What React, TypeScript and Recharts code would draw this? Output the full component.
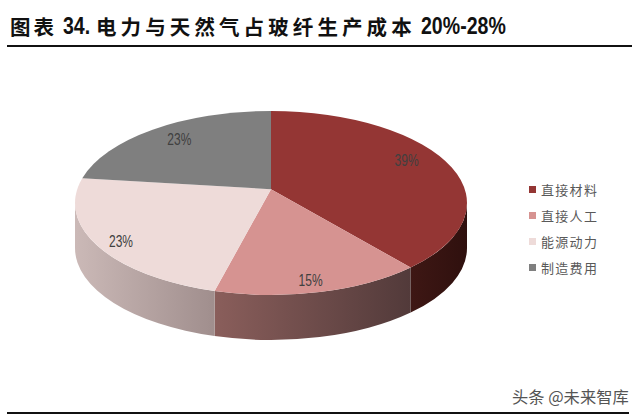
import React from 'react';
import { PieChart, Pie, Legend } from 'recharts';

const categories = ['直接材料', '直接人工', '能源动力', '制造费用'];
const shares = [39, 15, 23, 23];
const topColors = ['#943634', '#d69391', '#eedbd9', '#7f7f7f'];
const wallLeft = ['#3e1714', '#8a5e5b', '#cbb9b7', '#7f7f7f'];
const wallRight = ['#2f100e', '#523a3a', '#a08e8d', '#7f7f7f'];

// label nudges from the default spot, px
const labelNudge = [[2, -6], [-3, 3], [4, 4], [-3, -3]];
const labelFraction = [0.77, 0.86, 0.88, 0.77];

const tableData = categories.map((name, i) => ({ name, value: shares[i], fill: topColors[i] }));

const SQUASH = 92 / 196; // ellipse height / width
const HUB = -0.15; // perspective shift of the centre
const DEPTH = 45;

// true pie angle -> position on the tilted disc
const project = (deg: number) => {
  const a = (deg * Math.PI) / 180;
  const u = Math.cos(a);
  const v = -Math.sin(a);
  const d = 1 + HUB * v;
  return { u: (u * Math.sqrt(1 - HUB * HUB)) / d, v: (v + HUB) / d };
};

const DiscSlice = (props: any) => {
  const { cx, cy, outerRadius: R, startAngle, endAngle, fill, payload } = props;
  const idx = categories.indexOf(payload?.name ?? props.name);
  const ry = R * SQUASH;
  const s = project(startAngle);
  const e = project(endAngle);
  let t1 = Math.atan2(s.v, s.u);
  if (t1 < -Math.PI / 2 - 1e-6) t1 += 2 * Math.PI;
  let t2 = Math.atan2(e.v, e.u);
  if (t2 <= t1) t2 += 2 * Math.PI;
  const at = (t: number, off = 0) => `${cx + R * Math.cos(t)} ${cy + ry * Math.sin(t) + off}`;
  const large = t2 - t1 > Math.PI ? 1 : 0;
  const top = `M${cx} ${cy + ry * HUB} L${at(t1)} A${R} ${ry} 0 ${large} 1 ${at(t2)} Z`;

  const a = Math.max(t1, 0);
  const b = Math.min(t2, Math.PI);
  const hasWall = b > a;
  const gid = `wall-${idx}`;
  return (
    <g>
      {hasWall && (
        <>
          <defs>
            <linearGradient
              id={gid}
              gradientUnits="userSpaceOnUse"
              x1={cx + R * Math.cos(b)}
              x2={cx + R * Math.cos(a)}
              y1={0}
              y2={0}
            >
              <stop offset="0" stopColor={wallLeft[idx]} />
              <stop offset="1" stopColor={wallRight[idx]} />
            </linearGradient>
          </defs>
          <path
            d={`M${at(a)} A${R} ${ry} 0 0 1 ${at(b)} L${at(b, DEPTH)} A${R} ${ry} 0 0 0 ${at(a, DEPTH)} Z`}
            fill={`url(#${gid})`}
          />
        </>
      )}
      <path d={top} fill={fill} />
    </g>
  );
};

const sliceLabel = (props: any) => {
  const { cx, cy, outerRadius: R, midAngle, value, index } = props;
  const p = project(midAngle);
  const hubY = cy + R * SQUASH * HUB;
  const f = labelFraction[index];
  const x = cx + R * p.u * f + labelNudge[index][0];
  const y = hubY + (cy + R * SQUASH * p.v - hubY) * f + labelNudge[index][1];
  return (
    <text
      key={index}
      x={x}
      y={y}
      textAnchor="middle"
      dominantBaseline="central"
      fontFamily="Liberation Sans"
      fontSize={16}
      fill="#404040"
      textLength={24}
      lengthAdjust="spacingAndGlyphs"
    >
      {`${value}%`}
    </text>
  );
};

const LegendList = ({ payload }: any) => (
  <div>
    {(payload ?? []).map((item: any) => (
      <div key={item.value} style={{ display: 'flex', alignItems: 'center', height: 26 }}>
        <span style={{ width: 7, height: 7, background: item.payload?.fill ?? item.color, marginRight: 5 }} />
        <span style={{ fontSize: 13, letterSpacing: 1.3, color: '#595959', fontFamily: 'Noto Sans CJK SC', whiteSpace: 'nowrap' }}>
          {item.value}
        </span>
      </div>
    ))}
  </div>
);

const titleBox: React.CSSProperties = { position: 'absolute', top: 11, height: 30, lineHeight: '30px', whiteSpace: 'nowrap', color: '#111' };
const cjk: React.CSSProperties = { ...titleBox, fontFamily: 'Noto Sans CJK SC', fontWeight: 700, fontSize: 20.5, letterSpacing: 4.1 };
const latin: React.CSSProperties = { ...titleBox, fontFamily: 'Liberation Sans', fontWeight: 700, fontSize: 23, transformOrigin: 'left center', transform: 'scaleX(0.85)' };

export default function App() {
  return (
    <div style={{ position: 'fixed', left: 0, top: 0, width: 640, height: 416, background: '#fff', overflow: 'hidden' }}>
      <span style={{ ...cjk, left: 10, letterSpacing: 3 }}>图表</span>
      <span style={{ ...latin, left: 63 }}>34.</span>
      <span style={{ ...cjk, left: 96 }}>电力与天然气占玻纤生产成本</span>
      <span style={{ ...latin, left: 421 }}>20%-28%</span>
      <div style={{ position: 'absolute', left: 7, top: 45, width: 625, height: 2, background: '#111' }} />

      <PieChart width={640} height={416} margin={{ top: 0, right: 0, bottom: 0, left: 0 }} style={{ position: 'absolute', left: 0, top: 0 }}>
        <Pie
          data={tableData}
          dataKey="value"
          nameKey="name"
          cx={271}
          cy={203}
          outerRadius={196}
          startAngle={90}
          endAngle={-270}
          stroke="none"
          shape={DiscSlice}
          label={sliceLabel}
          labelLine={false}
          isAnimationActive={false}
        />
        <Legend
          layout="vertical"
          itemSorter={null}
          content={<LegendList />}
          wrapperStyle={{ position: 'absolute', left: 529, top: 176, width: 100, bottom: 'auto', right: 'auto' }}
        />
      </PieChart>

      <div style={{ position: 'absolute', left: 512, top: 384, fontFamily: 'Noto Sans CJK SC', fontSize: 16.3, color: '#555', whiteSpace: 'nowrap' }}>
        头条 @未来智库
      </div>
      <div style={{ position: 'absolute', left: 7, top: 412, width: 622, height: 2, background: '#111' }} />
    </div>
  );
}
